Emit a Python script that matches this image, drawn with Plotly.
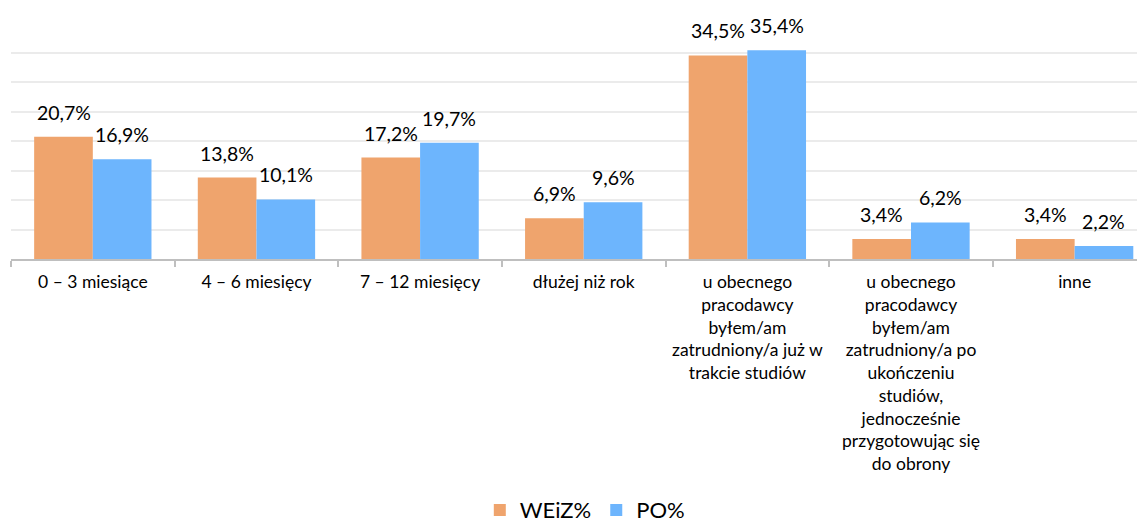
import plotly.graph_objects as go

categories = [
    "0 – 3 miesiące",
    "4 – 6 miesięcy",
    "7 – 12 miesięcy",
    "dłużej niż rok",
    "u obecnego<br>pracodawcy<br>byłem/am<br>zatrudniony/a już w<br>trakcie studiów",
    "u obecnego<br>pracodawcy<br>byłem/am<br>zatrudniony/a po<br>ukończeniu<br>studiów,<br>jednocześnie<br>przygotowując się<br>do obrony",
    "inne",
]
weiz = [20.7, 13.8, 17.2, 6.9, 34.5, 3.4, 3.4]
po = [16.9, 10.1, 19.7, 9.6, 35.4, 6.2, 2.2]
series_names = ["WEiZ%", "PO%"]
colors = ["#EFA46D", "#6DB5FD"]

FONT = "Lato, Carlito, Calibri, sans-serif"

fig = go.Figure()
for name, vals, col in zip(series_names, [weiz, po], colors):
    fig.add_trace(go.Bar(
        x=categories, y=vals, name=name,
        marker=dict(color=col, line=dict(width=0)),
    ))

# value labels above each bar (offset left/right for the grouped bars)
for vals, dx in zip([weiz, po], [-29.3, 29.3]):
    for cat, v in zip(categories, vals):
        fig.add_annotation(
            x=cat, y=v, xref="x", yref="y",
            text=f"{v:.1f}%".replace(".", ","),
            showarrow=False, xanchor="center", yanchor="bottom",
            xshift=dx, yshift=11,
            font=dict(size=19.5, color="#000000", family=FONT),
        )

fig.update_layout(
    width=1137, height=516,
    margin=dict(l=3, r=0, t=15, b=265, autoexpand=False),
    paper_bgcolor="white", plot_bgcolor="white",
    barmode="group", bargap=0.283, bargroupgap=0,
    font=dict(family=FONT, color="#000000"),
    showlegend=True,
    legend=dict(orientation="h", x=0.506, xanchor="center", y=-1.064, yanchor="middle",
                font=dict(size=22, family=FONT), itemwidth=30, traceorder="normal"),
)
fig.update_xaxes(
    range=[-0.5, 6.43],
    showline=True, linecolor="#BFBFBF", linewidth=2,
    ticks="outside", tickson="boundaries", ticklen=6, tickcolor="#BFBFBF", tickwidth=2,
    tickfont=dict(size=17.5, family=FONT, color="#000000"),
    ticklabelstandoff=6,
    showgrid=False, tickangle=0,
)
fig.update_yaxes(
    range=[0, 40], dtick=5, showticklabels=False,
    showgrid=True, gridcolor="#EBEBEB", gridwidth=1.5, zeroline=False,
)

fig.write_html("out.html")
